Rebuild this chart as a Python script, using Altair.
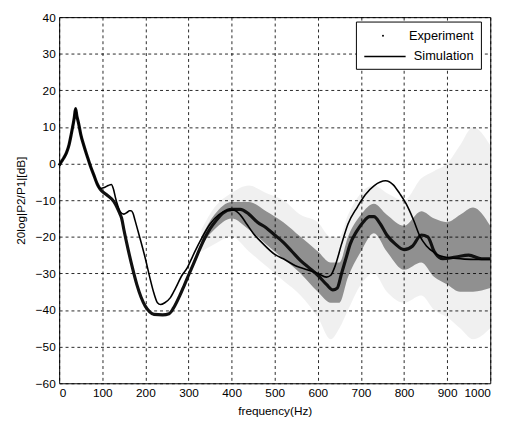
import altair as alt
import pandas as pd

# ---- data ----
exp_f = [0, 5, 11, 17, 23, 28, 32, 35, 38, 41, 45, 50, 57, 65, 72, 80, 88, 95,
         110, 127, 140, 145, 150, 160, 170, 180, 190, 200, 210, 220, 240, 255, 265,
         280, 290, 300, 310, 320, 335, 350, 365, 380, 400, 420, 440, 460, 480, 500,
         520, 540, 560, 580, 600, 620, 635, 645, 655, 665, 675, 690, 705, 720, 730,
         745, 760, 780, 800, 820, 840, 855, 870, 890, 920, 950, 980, 1000]
exp_db = [-0.5, 0.5, 1.6, 3, 5.2, 8, 10.5, 12.5, 15, 13, 11, 8, 5, 2, -0.5, -3, -5.5, -7,
          -8.5, -10.4, -13.5, -15, -18, -23.5, -28.5, -33, -36.5, -39, -40.5, -41.2, -41.3, -41, -39.5,
          -36, -33.3, -30.5, -27.8, -25, -21, -17.8, -15.4, -13.5, -12.5, -12.5, -13.8, -16, -17.5, -19.5,
          -21.5, -24, -26.5, -28.5, -30.5, -33, -34.5, -34, -30, -26, -22, -18.5, -16, -14.5, -14.5,
          -16.5, -19.5, -22, -23.5, -22.5, -19.5, -20, -24, -26, -25.5, -25, -26, -26]

sim_f = [0, 5, 11, 17, 23, 28, 32, 35, 38, 41, 45, 50, 57, 65, 72, 80, 88, 95, 105, 114,
         121, 126, 131, 136, 142, 150, 158, 163, 167, 171, 176, 183, 190, 200, 210, 220, 228,
         235, 245, 258, 270, 285, 297, 305, 315, 330, 350, 370, 390, 405, 420, 435, 450, 472,
         500, 520, 548, 575, 600, 620, 630, 640, 655, 670, 692, 710, 731, 757, 775, 790, 805,
         822, 837, 852, 870, 883, 910, 940, 970, 1000]
sim_db = [-0.5, 0.5, 1.6, 3, 5.2, 8, 10.5, 12.5, 15, 13, 11, 8, 5, 2, -0.5, -3, -5.5, -6.8, -6.5, -6,
          -5.7, -7, -9.5, -11.5, -13.2, -13.8, -13.3, -12.9, -12.9, -13.5, -15.5, -18.5, -21.5, -26, -31, -35.5, -38,
          -38.5, -38, -36.6, -34, -30.5, -28.5, -26.5, -24, -20.5, -16.5, -14, -12.8, -12.7, -14, -16.5, -19, -21.8,
          -24.8, -26, -27.9, -29, -30, -31, -30.5, -28, -22, -16.5, -11.8, -8.5, -6, -4.7, -5.8, -8.2, -11,
          -15.4, -19.9, -22.5, -24.3, -25.2, -25.8, -26.1, -26.2, -26.2]

# scatter spread of the experiment (dense core and sparse outliers)
band_f = [330, 360, 400, 440, 480, 520, 560, 600, 630, 650, 670, 700, 730, 760, 800, 840, 870, 900, 930, 960, 1000]
dense_hi = [-20, -14, -10.5, -10.5, -13, -16, -20, -24, -27, -27, -20, -14, -11, -14, -17, -13, -15, -16, -14, -12, -17]
dense_lo = [-22, -18, -15, -18, -22, -26, -30, -35, -38, -38, -31, -24, -19, -24, -29, -27, -31, -33, -35, -35, -34]
sparse_hi = [-18, -12, -8, -6, -8, -10, -14, -16, -20, -20, -14, -8, -6, -8, -10, -4, -2, 0, 5, 10, 5]
sparse_lo = [-24, -22, -20, -24, -28, -32, -36, -42, -48, -45, -40, -33, -30, -35, -38, -36, -40, -42, -45, -48, -45]

x_ticks = list(range(0, 1001, 100))
y_ticks = list(range(-60, 41, 10))
legend_labels = ["Experiment", "Simulation"]

# ---- tables ----
exp_df = pd.DataFrame({"f": exp_f, "db": exp_db})
sim_df = pd.DataFrame({"f": sim_f, "db": sim_db})
band_df = pd.DataFrame({"f": band_f, "dhi": dense_hi, "dlo": dense_lo, "shi": sparse_hi, "slo": sparse_lo})
one = pd.DataFrame({"k": [0]})

FONT = "Liberation Sans"
xs = alt.Scale(domain=[0, 1000], nice=False, zero=False)
ys = alt.Scale(domain=[-60, 40], nice=False, zero=False)
xa = alt.Axis(values=x_ticks, title="frequency(Hz)", grid=True, ticks=False,
              labelPadding=4, titlePadding=8, format="d")
ya = alt.Axis(values=y_ticks, title="20log|P2/P1|[dB]", grid=True, ticks=False,
              labelPadding=4, titlePadding=8, format="d")

def X(field):
    return alt.X(field, type="quantitative", scale=xs, axis=xa)

def Y(field):
    return alt.Y(field, type="quantitative", scale=ys, axis=ya)

sparse = alt.Chart(band_df).mark_area(color="#000", opacity=0.06, interpolate="monotone").encode(
    x=X("f"), y=Y("slo"), y2="shi")
dense = alt.Chart(band_df).mark_area(color="#000", opacity=0.40, interpolate="monotone").encode(
    x=X("f"), y=Y("dlo"), y2="dhi")
exp_line = alt.Chart(exp_df).mark_line(color="#111", strokeWidth=3.2, interpolate="monotone").encode(
    x=X("f"), y=Y("db"))
sim_line = alt.Chart(sim_df).mark_line(color="#000", strokeWidth=1.6, interpolate="monotone").encode(
    x=X("f"), y=Y("db"))

# legend box (MATLAB style, top right inside the plot)
leg_box = alt.Chart(one).mark_rect(fill="white", stroke="black", strokeWidth=1).encode(
    x=alt.value(302), x2=alt.value(429), y=alt.value(5), y2=alt.value(53))
leg_t1 = alt.Chart(one).mark_text(align="right", baseline="middle", font=FONT, fontSize=13, color="black").encode(
    x=alt.value(421), y=alt.value(19), text=alt.value(legend_labels[0]))
leg_t2 = alt.Chart(one).mark_text(align="right", baseline="middle", font=FONT, fontSize=13, color="black").encode(
    x=alt.value(421), y=alt.value(40), text=alt.value(legend_labels[1]))
leg_dot = alt.Chart(one).mark_circle(color="black", size=4, opacity=1).encode(
    x=alt.value(329), y=alt.value(19))
leg_line = alt.Chart(one).mark_rule(color="black", strokeWidth=1.6).encode(
    x=alt.value(310), x2=alt.value(352), y=alt.value(40))

chart = alt.layer(sparse, dense, exp_line, sim_line, leg_box, leg_t1, leg_t2, leg_dot, leg_line).properties(
    width=438, height=372, autosize="none",
    padding={"left": 52, "top": 6, "right": 17, "bottom": 32},
    background="white",
).configure_view(stroke="black", strokeWidth=1).configure_axis(
    labelFont=FONT, labelFontSize=12, labelColor="black",
    titleFont=FONT, titleFontSize=12, titleFontWeight="normal", titleColor="black",
    domain=False, gridColor="black", gridDash=[3, 3], gridOpacity=0.85, gridWidth=1,
)

chart.save("out.html", embed_options={"renderer": "svg", "actions": False})
